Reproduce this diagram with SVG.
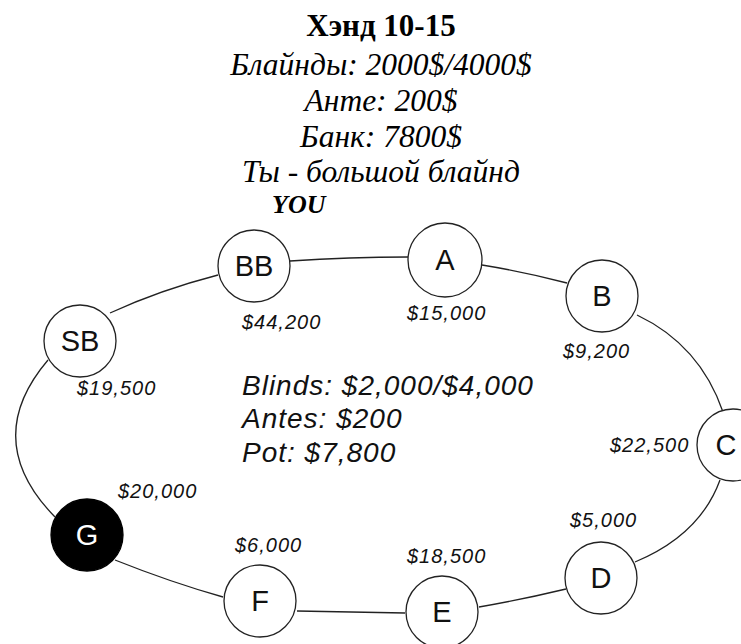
<svg xmlns="http://www.w3.org/2000/svg" width="741" height="644" viewBox="0 0 741 644">
<style>
.title{font-family:"Liberation Serif","Times New Roman",serif;font-weight:bold;font-size:31px;fill:#000;text-anchor:middle}
.ru{font-family:"Liberation Serif","Times New Roman",serif;font-style:italic;font-size:31.5px;fill:#000;text-anchor:middle}
.you{font-family:"Liberation Serif","Times New Roman",serif;font-style:italic;font-weight:bold;font-size:26px;fill:#000}
.info{font-family:"Liberation Sans",Arial,sans-serif;font-style:italic;font-size:28px;letter-spacing:1px;fill:#111}
.stack{font-family:"Liberation Sans",Arial,sans-serif;font-style:italic;font-size:20px;letter-spacing:1px;fill:#111}
.seat{fill:#fff;stroke:#222;stroke-width:1.3}
.seat-dark{fill:#000;stroke:#000;stroke-width:1.3}
.lbl{font-family:"Liberation Sans",Arial,sans-serif;font-size:29px;fill:#111;text-anchor:middle}
.lbl-w{font-family:"Liberation Sans",Arial,sans-serif;font-size:29px;fill:#fff;text-anchor:middle}
.edge{fill:none;stroke:#222;stroke-width:1.3}
</style>
<rect width="741" height="644" fill="#fff"/>
<g id="header">
<text class="title" x="381" y="36">Хэнд 10-15</text>
<text class="ru" x="381" y="75">Блайнды: 2000$/4000$</text>
<text class="ru" x="381" y="111">Анте: 200$</text>
<text class="ru" x="381" y="147">Банк: 7800$</text>
<text class="ru" x="381" y="182">Ты - большой блайнд</text>
<text class="you" x="272" y="213">YOU</text>
</g>
<g id="connectors">
<path class="edge" d="M110,313 Q160,290 218,275"/>
<path class="edge" d="M290,261 Q350,257 408,257"/>
<path class="edge" d="M482,265 Q525,272 567,283"/>
<path class="edge" d="M637,315 Q700,345 723,412"/>
<path class="edge" d="M720,480 Q700,535 635,562"/>
<path class="edge" d="M566,589 Q520,600 479,607"/>
<path class="edge" d="M405,613 Q350,612 297,611"/>
<path class="edge" d="M223,597 Q170,582 115,560"/>
<path class="edge" d="M55,517 Q-20,440 48,360"/>
</g>
<g id="info">
<text class="info" x="242" y="395">Blinds: $2,000/$4,000</text>
<text class="info" x="242" y="428">Antes: $200</text>
<text class="info" x="242" y="462">Pot: $7,800</text>
</g>
<g id="seat-BB">
<circle class="seat" cx="254" cy="266" r="36"/>
<text class="lbl" x="254" y="276">BB</text>
<text class="stack" x="242" y="329">$44,200</text>
</g>
<g id="seat-A">
<circle class="seat" cx="445" cy="260" r="37"/>
<text class="lbl" x="445" y="270">A</text>
<text class="stack" x="407" y="320">$15,000</text>
</g>
<g id="seat-B">
<circle class="seat" cx="602" cy="296" r="36"/>
<text class="lbl" x="602" y="306">B</text>
<text class="stack" x="563" y="358">$9,200</text>
</g>
<g id="seat-C">
<circle class="seat" cx="733" cy="445" r="36"/>
<text class="lbl" x="726" y="455">C</text>
<text class="stack" x="610" y="452">$22,500</text>
</g>
<g id="seat-D">
<circle class="seat" cx="601" cy="578" r="36"/>
<text class="lbl" x="601" y="588">D</text>
<text class="stack" x="570" y="527">$5,000</text>
</g>
<g id="seat-E">
<circle class="seat" cx="442" cy="612" r="36"/>
<text class="lbl" x="442" y="622">E</text>
<text class="stack" x="407" y="563">$18,500</text>
</g>
<g id="seat-F">
<circle class="seat" cx="260" cy="601" r="36"/>
<text class="lbl" x="260" y="611">F</text>
<text class="stack" x="235" y="552">$6,000</text>
</g>
<g id="seat-G">
<circle class="seat-dark" cx="87" cy="535" r="36"/>
<text class="lbl-w" x="87" y="545">G</text>
<text class="stack" x="118" y="498">$20,000</text>
</g>
<g id="seat-SB">
<circle class="seat" cx="80" cy="341" r="36"/>
<text class="lbl" x="80" y="351">SB</text>
<text class="stack" x="77" y="395">$19,500</text>
</g>
</svg>
